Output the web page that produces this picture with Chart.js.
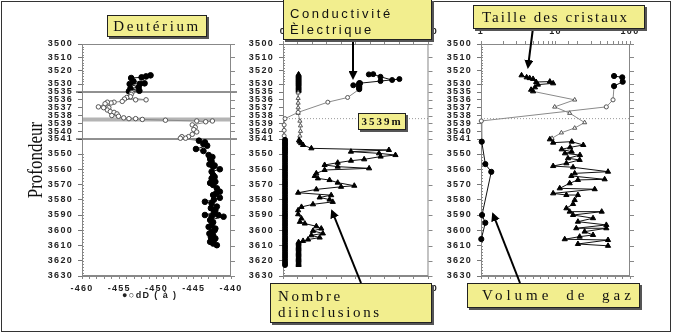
<!DOCTYPE html>
<html lang="fr">
<head>
<meta charset="utf-8">
<title>Profils de la carotte</title>
<script src="https://cdn.jsdelivr.net/npm/chart.js@4.4.1/dist/chart.umd.min.js"></script>
<style>
  html, body { margin: 0; padding: 0; background: #fff; }
  #fig { position: relative; width: 673px; height: 334px; overflow: hidden; }
  #fig canvas { position: absolute; top: 0; }
  #border { position: absolute; left: 1px; top: 1px; width: 670px; height: 331px; border: 1px solid #333; box-sizing: border-box; }
  #arrows { position: absolute; left: 0; top: 0; }
  .box { position: absolute; box-sizing: border-box; background: #f2ee8e; border: 1px solid #222;
         box-shadow: 2px 2px 0 #555; color: #111; white-space: nowrap; font-family: "Liberation Serif", serif; }
  .ytitle { position: absolute; left: -24px; top: 148px; width: 120px; height: 24px; line-height: 24px; text-align: center;
            font: 20px "Liberation Serif", serif; color: #111; transform: rotate(-90deg) scaleX(0.85); }
  .xtitle { position: absolute; left: 122px; top: 290px; font: bold 9px "Liberation Sans", sans-serif; letter-spacing: 1.4px; color: #222; }
</style>
</head>
<body>
<div id="fig">
  <canvas id="dD" width="250" height="334" style="left:0"></canvas>
  <canvas id="cond" width="200" height="334" style="left:240px"></canvas>
  <canvas id="crys" width="233" height="334" style="left:440px"></canvas>
  <div id="border"></div>
  <div class="ytitle">Profondeur</div>
  <div class="xtitle">●○dD ( à )</div>
  <svg id="arrows" width="673" height="334">
    <defs>
      <marker id="head" markerWidth="4.5" markerHeight="4.5" refX="3.5" refY="2.25" orient="auto" markerUnits="strokeWidth">
        <path d="M0,0 L4.5,2.25 L0,4.5 z" fill="#000"/>
      </marker>
    </defs>
    <line x1="353" y1="40" x2="353" y2="78" stroke="#000" stroke-width="2" marker-end="url(#head)"/>
    <line x1="533" y1="28" x2="528" y2="67" stroke="#000" stroke-width="2" marker-end="url(#head)"/>
    <line x1="361" y1="283" x2="332" y2="211" stroke="#000" stroke-width="2" marker-end="url(#head)"/>
    <line x1="520" y1="283" x2="493" y2="214" stroke="#000" stroke-width="2" marker-end="url(#head)"/>
  </svg>
  <div class="box" style="left:107px;top:15px;width:100px;height:22px;font-size:15px;letter-spacing:2.6px;line-height:20px;text-align:center;">Deutérium</div>
  <div class="box" style="left:283px;top:-1px;width:149px;height:41px;padding:6px 0 0 6px;font:13px 'Liberation Sans',sans-serif;letter-spacing:2.6px;line-height:16px;">Conductivité<br>Èlectrique</div>
  <div class="box" style="left:473px;top:5px;width:172px;height:24px;padding-left:8px;font-size:15px;letter-spacing:2px;line-height:22px;">Taille des cristaux</div>
  <div class="box" style="left:270px;top:283px;width:162px;height:40px;padding:4px 0 0 7px;font-size:15px;letter-spacing:2.6px;line-height:16px;">Nombre<br>diinclusions</div>
  <div class="box" style="left:467px;top:283px;width:173px;height:25px;padding-left:14px;font-size:15px;letter-spacing:4px;word-spacing:6px;line-height:23px;">Volume de gaz</div>
  <div class="box" style="left:358px;top:113px;width:48px;height:17px;font-size:11px;font-weight:bold;letter-spacing:2px;line-height:15px;text-align:center;">3539m</div>
</div>
<script>
// depth labels shared by the three panels (m)
const depthTicks = [3500, 3510, 3520, 3530, 3535, 3536, 3537, 3538, 3539, 3540, 3541,
                    3550, 3560, 3570, 3580, 3590, 3600, 3610, 3620, 3630];

// [depth m, dD permil]
const deuterium = [
  [3523.5, -450.8], [3524.3, -451.4], [3525.0, -452.0], [3525.5, -453.4], [3528.0, -453.1],
  [3529.5, -451.6], [3529.8, -452.2], [3530.0, -453.6], [3532.0, -452.4], [3532.9, -453.5],
  [3534.2, -452.3], [3534.6, -453.7],
  [3535.1, -453.3], [3535.3, -453.4], [3535.6, -453.5], [3535.7, -454.0], [3536.0, -451.4],
  [3536.0, -452.8], [3535.9, -454.3], [3536.2, -454.6], [3536.3, -455.7], [3536.4, -456.1],
  [3536.3, -456.6], [3536.5, -456.9], [3536.9, -457.8], [3537.0, -457.1], [3537.0, -456.4],
  [3537.3, -456.6], [3537.5, -456.2], [3537.6, -455.7], [3537.8, -455.3], [3538.0, -456.0],
  [3538.1, -455.1], [3538.3, -454.4], [3538.4, -453.7], [3538.4, -452.8], [3538.5, -451.9],
  [3538.6, -448.8], [3538.7, -444.6], [3538.8, -443.4], [3538.7, -442.5], [3539.2, -445.2],
  [3539.5, -444.8], [3539.8, -445.0], [3540.1, -444.6], [3540.4, -445.2], [3540.7, -445.7],
  [3540.9, -446.1], [3540.7, -446.6], [3540.9, -446.8],
  [3542.0, -444.3], [3543.0, -443.5], [3544.0, -443.7], [3545.0, -443.2], [3547.0, -444.7],
  [3548.2, -443.7], [3550.7, -443.0], [3552.0, -442.5], [3553.3, -442.8], [3555.0, -442.6],
  [3556.8, -442.9], [3557.5, -442.2], [3558.3, -442.4], [3560.0, -441.5], [3561.6, -442.6],
  [3563.8, -442.4], [3565.0, -442.2], [3566.0, -442.6], [3568.2, -442.1], [3569.0, -442.8],
  [3570.3, -442.4], [3572.5, -441.9], [3574.7, -441.5], [3575.8, -442.0], [3576.9, -442.4],
  [3578.7, -441.5], [3580.0, -442.3], [3581.3, -443.5], [3582.4, -442.6], [3584.5, -441.9],
  [3585.5, -442.7], [3586.7, -442.1], [3588.5, -442.3], [3590.0, -443.5], [3590.0, -441.7],
  [3591.1, -442.6], [3591.1, -441.0], [3593.3, -442.8], [3594.8, -442.4], [3596.7, -442.6],
  [3597.8, -443.0], [3598.9, -442.1], [3600.0, -442.2], [3601.0, -442.6], [3602.2, -442.9],
  [3603.3, -442.4], [3604.4, -442.7], [3605.4, -442.1], [3606.5, -442.3], [3607.6, -442.8],
  [3608.7, -442.4], [3609.8, -441.9]
];

// [depth m, conductivity] (top axis of the middle panel)
const conductivity = [
  [3522.8, 59], [3522.6, 62], [3524.6, 67], [3527.0, 75], [3526.3, 80], [3527.8, 67],
  [3529.4, 53], [3530.8, 48.3],
  [3529.3, 52.4], [3529.8, 52.4], [3530.3, 52.4], [3530.8, 52.4], [3531.3, 52.4], [3531.8, 52.4],
  [3532.3, 52.4], [3532.8, 52.4], [3533.3, 52.4],
  [3535.7, 44.4], [3536.3, 30.8], [3537.6, 10.4], [3538.4, 1.4], [3539.2, 0.8], [3539.9, 0.8],
  [3540.6, 0.8],
  [3541.5, 1.4], [3542.5, 1.4], [3543.5, 1.4], [3544.5, 1.4], [3545.5, 1.4], [3546.5, 1.4],
  [3547.5, 1.4], [3548.5, 1.4], [3549.5, 1.4], [3551, 1.4], [3552.5, 1.4], [3554, 1.4],
  [3555.5, 1.4], [3557, 1.4], [3558.5, 1.4], [3560, 1.4], [3561.5, 1.4], [3563, 1.4],
  [3564.5, 1.4], [3566, 1.4], [3567.5, 1.4], [3569, 1.4], [3570.5, 1.4], [3572, 1.4],
  [3573.5, 1.4], [3575, 1.4], [3576.5, 1.4], [3578, 1.4], [3579.5, 1.4], [3581, 1.4],
  [3582.5, 1.4], [3584, 1.4], [3585.5, 1.4], [3587, 1.4], [3588.5, 1.4], [3590, 1.4],
  [3591.5, 1.4], [3593, 1.4], [3594.5, 1.4], [3596, 1.4], [3597.5, 1.4], [3599, 1.4],
  [3600.5, 1.4], [3602, 1.4], [3603.5, 1.4], [3605, 1.4], [3606.5, 1.4], [3608, 1.4],
  [3609.5, 1.4], [3611, 1.4], [3612.5, 1.4], [3614, 1.4], [3615.5, 1.4], [3617, 1.4],
  [3618.5, 1.4], [3620, 1.4], [3621.5, 1.4], [3622.8, 1.4]
];

// [depth m, number of inclusions] (bottom axis of the middle panel)
const inclusions = [
  [3522.8, 10.7], [3523.3, 10.7], [3523.8, 10.7], [3524.3, 10.7], [3524.8, 10.7], [3525.3, 10.7],
  [3525.8, 10.7], [3526.3, 10.7], [3526.8, 10.7], [3527.3, 10.7], [3527.8, 10.7], [3528.3, 10.7],
  [3528.8, 10.7], [3529.3, 10.7], [3529.8, 10.7], [3530.3, 10.7], [3530.8, 10.7], [3531.3, 10.7],
  [3531.8, 10.7], [3532.3, 10.7], [3532.8, 10.7], [3533.3, 10.7], [3533.8, 10.7], [3534.3, 10.7],
  [3535.1, 10.4], [3535.8, 10.4], [3536.4, 10.4], [3537.0, 10.4], [3537.7, 10.4],
  [3538.7, 11.6], [3539.3, 12.0], [3540.0, 12.0], [3540.6, 11.6],
  [3541.8, 11.0], [3542.6, 11.6], [3543.5, 12.5], [3544.6, 13.8], [3546.6, 19.5], [3547.6, 72.8],
  [3548.6, 46.7], [3549.6, 66.0], [3550.7, 77.3], [3551.7, 67.1], [3553.5, 55.8], [3554.4, 46.7],
  [3555.7, 37.6], [3557.2, 28.6], [3558.3, 37.6], [3559.4, 59.2], [3560.5, 28.6], [3562.7, 22.9],
  [3564.4, 21.8], [3566.0, 24.0], [3567.1, 32.0], [3568.8, 37.6], [3570.8, 49.0], [3571.5, 39.9],
  [3573.2, 22.9], [3575.4, 10.4], [3577.0, 33.1], [3578.5, 25.2], [3579.9, 32.0], [3581.4, 34.2],
  [3583.0, 20.6], [3584.7, 12.7], [3586.9, 10.4], [3589.5, 10.4], [3592.3, 12.7], [3594.5, 11.6],
  [3595.6, 15.0], [3597.4, 22.9], [3598.9, 26.3], [3600.4, 20.6], [3602.1, 27.4], [3603.3, 19.5],
  [3604.8, 25.2], [3606.1, 17.2], [3607.0, 13.8],
  [3607.8, 10.7], [3608.6, 10.7], [3609.4, 10.7], [3610.2, 10.7], [3611, 10.7], [3611.8, 10.7],
  [3612.6, 10.7], [3613.4, 10.7], [3614.2, 10.7], [3615, 10.7], [3615.8, 10.7], [3616.6, 10.7],
  [3617.4, 10.7], [3618.2, 10.7], [3619, 10.7], [3619.8, 10.7], [3620.6, 10.7], [3621.4, 10.7],
  [3622.2, 10.7], [3622.8, 10.7]
];

// [depth m, crystal size] (log top axis of the right panel)
const crystalSize = [
  [3523.5, 3.5], [3525.0, 4.1], [3525.6, 4.5], [3526.2, 5.0], [3528.5, 5.5], [3528.2, 8.4],
  [3529.5, 9.3], [3530.4, 5.8], [3532.1, 5.3], [3533.6, 4.7], [3534.6, 5.0],
  [3536.0, 18.1], [3536.9, 9.75], [3537.7, 15.5], [3538.9, 24.6], [3539.6, 18.1], [3540.2, 12.0],
  [3540.9, 9.0],
  [3541.2, 8.4], [3543.2, 9.3], [3542.6, 16.5], [3544.6, 23.6], [3546.0, 15.7], [3547.2, 12.1],
  [3548.6, 16.5], [3549.6, 13.4], [3550.7, 21.3], [3552.8, 14.7], [3553.9, 21.1], [3556.1, 14.0],
  [3557.9, 9.3], [3558.7, 17.2], [3561.6, 50.7], [3562.7, 18.1], [3564.4, 16.3], [3566.6, 45.7],
  [3567.0, 20.0], [3569.2, 15.5], [3572.5, 11.4], [3573.1, 33.6], [3575.8, 9.3], [3576.9, 14.0],
  [3576.9, 20.0], [3580.2, 18.1], [3582.8, 17.2], [3585.6, 14.0], [3587.8, 15.5], [3587.8, 41.7],
  [3590.0, 17.2], [3592.1, 31.9], [3594.4, 20.0], [3596.5, 48.1], [3598.7, 19.0], [3598.7, 48.1],
  [3600.9, 24.6], [3603.1, 31.9], [3604.2, 21.1], [3605.9, 13.3], [3606.4, 50.7], [3609.0, 20.0],
  [3610.2, 50.7]
];

// [depth m, gas volume] (bottom axis of the right panel)
const gasVolume = [
  [3524.0, 89.3], [3525.0, 94.8], [3528.3, 95.1], [3531.3, 89.3],
  [3536.0, 88.6], [3536.9, 84.1], [3538.7, 0.2],
  [3542.6, 0.5], [3556.6, 2.9], [3561.7, 6.9], [3590.0, 0.7], [3595.1, 2.9], [3605.8, 0.2]
];

// the depth axis is stretched between 3535 and 3541 m
const depthKnots = [3500, 3530, 3535, 3541, 3550, 3630];
const axisKnots = [0, 40, 48, 95, 110, 232];
function toAxis(d) {
  for (let i = 1; i < depthKnots.length; i++) {
    if (d <= depthKnots[i] || i === depthKnots.length - 1) {
      const t = (d - depthKnots[i - 1]) / (depthKnots[i] - depthKnots[i - 1]);
      return axisKnots[i - 1] + t * (axisKnots[i] - axisKnots[i - 1]);
    }
  }
}
const isOpen = d => d >= 3535 && d <= 3541;
const openAxis = u => u >= toAxis(3535) && u <= toAxis(3541);

const tickFont = { family: 'Liberation Sans', size: 9, weight: 'bold' };

// open markers (3535-3541 m) are drawn white with grey links
function series(pairs, shape, radius, xAxisID) {
  return {
    data: pairs.map(([d, v]) => ({ x: v, y: toAxis(d) })),
    xAxisID,
    showLine: true,
    borderWidth: 1,
    borderColor: '#111',
    segment: {
      borderColor: ctx => (openAxis(ctx.p0.parsed.y) || openAxis(ctx.p1.parsed.y)) ? '#8a8a8a' : '#111'
    },
    pointStyle: shape,
    pointRadius: pairs.map(([d]) => isOpen(d) ? radius * 0.8 : radius),
    pointBorderWidth: 1,
    pointBackgroundColor: pairs.map(([d]) => isOpen(d) ? '#fff' : '#000'),
    pointBorderColor: pairs.map(([d]) => isOpen(d) ? '#555' : '#000'),
    clip: 8
  };
}

function depthAxis(width) {
  return {
    type: 'linear', position: 'left', reverse: true, min: 0, max: 232,
    afterFit: s => { s.width = width; },
    afterBuildTicks: s => { s.ticks = depthTicks.map(d => ({ value: toAxis(d) })); },
    ticks: { autoSkip: false, padding: 5, color: '#222', font: tickFont, callback: (v, i) => depthTicks[i] },
    grid: { drawOnChartArea: false, tickLength: 4, color: '#777' },
    border: { color: '#888' }
  };
}

function valueAxis(position, min, max, step, height, label) {
  return {
    type: 'linear', position, min, max,
    afterFit: s => { s.height = height; },
    ticks: { stepSize: step, autoSkip: false, maxRotation: 0, minRotation: 0, padding: 4,
             color: '#222', font: tickFont, display: !!label, callback: label || (() => '') },
    grid: { drawOnChartArea: false, tickLength: 3, color: '#888' },
    border: { color: '#888' }
  };
}

// plot frame, mirrored depth ticks and the horizontal guide lines
const framePlugin = {
  id: 'frame',
  beforeDatasetsDraw(chart, args, opts) {
    const { ctx, chartArea: a } = chart;
    const y = chart.scales.y;
    ctx.save();
    (opts.lines || []).forEach(l => {
      const py = y.getPixelForValue(toAxis(l.depth));
      ctx.beginPath();
      ctx.strokeStyle = l.color;
      ctx.lineWidth = l.width;
      ctx.setLineDash(l.dash || []);
      ctx.moveTo(a.left - (l.out || 0), py);
      ctx.lineTo(a.right + (l.out || 0), py);
      ctx.stroke();
    });
    ctx.setLineDash([]);
    ctx.strokeStyle = '#888';
    ctx.lineWidth = 1;
    ctx.strokeRect(a.left + 0.5, a.top + 0.5, a.width - 1, a.height - 1);
    ctx.beginPath();
    depthTicks.forEach(d => {
      const py = Math.round(y.getPixelForValue(toAxis(d))) + 0.5;
      ctx.moveTo(a.right, py);
      ctx.lineTo(a.right + 4, py);
    });
    for (let d = 3502; d < 3630; d += 2) {
      if (d > 3530 && d < 3550) continue;
      const py = Math.round(y.getPixelForValue(toAxis(d))) + 0.5;
      ctx.moveTo(a.left, py);
      ctx.lineTo(a.left + 2, py);
    }
    ctx.stroke();
    ctx.restore();
  }
};

const spacing = { id: 'spacing', beforeDraw(chart) { chart.ctx.letterSpacing = '1.3px'; } };

function makeChart(id, datasets, scales, lines, padding) {
  return new Chart(document.getElementById(id), {
    type: 'scatter',
    data: { datasets },
    options: {
      responsive: false, animation: false, events: [],
      layout: { padding },
      scales,
      plugins: { legend: { display: false }, tooltip: { enabled: false }, frame: { lines } }
    },
    plugins: [spacing, framePlugin]
  });
}

const dottedGuide = [{ depth: 3538.4, color: '#9a9a9a', width: 1, dash: [1, 2] }];

makeChart('dD',
  [series(deuterium, 'circle', 2.8, 'x')],
  { x: valueAxis('bottom', -460, -440, 1, 58, v => (v % 5 === 0 ? v : '')), y: depthAxis(82) },
  [
    { depth: 3538.5, color: '#b4b4b4', width: 4 },
    { depth: 3535, color: '#222', width: 1, out: 6 },
    { depth: 3541, color: '#222', width: 1, out: 6 }
  ],
  { left: 0, right: 19, top: 44, bottom: 0 });

makeChart('cond',
  [series(conductivity, 'circle', 2.5, 'xc'), series(inclusions, 'triangle', 3, 'x')],
  {
    xc: valueAxis('top', 0, 100, 10, 44, v => v),
    x: valueAxis('bottom', 0, 100, 10, 58, v => v),
    y: depthAxis(43)
  },
  dottedGuide,
  { left: 0, right: 10, top: 0, bottom: 0 });

makeChart('crys',
  [series(crystalSize, 'triangle', 3, 'xs'), series(gasVolume, 'circle', 2.6, 'x')],
  {
    xs: {
      type: 'logarithmic', position: 'top', min: 1, max: 100,
      afterFit: s => { s.height = 44; },
      ticks: { autoSkip: false, maxRotation: 0, padding: 4, color: '#222', font: tickFont,
               callback: v => ([1, 10, 100].includes(v) ? String(v) : '') },
      grid: { drawOnChartArea: false, tickLength: 3, color: '#888' },
      border: { color: '#888' }
    },
    x: valueAxis('bottom', 0, 100, 5, 58, null),
    y: depthAxis(41)
  },
  dottedGuide,
  { left: 0, right: 43, top: 0, bottom: 0 });
</script>
</body>
</html>
